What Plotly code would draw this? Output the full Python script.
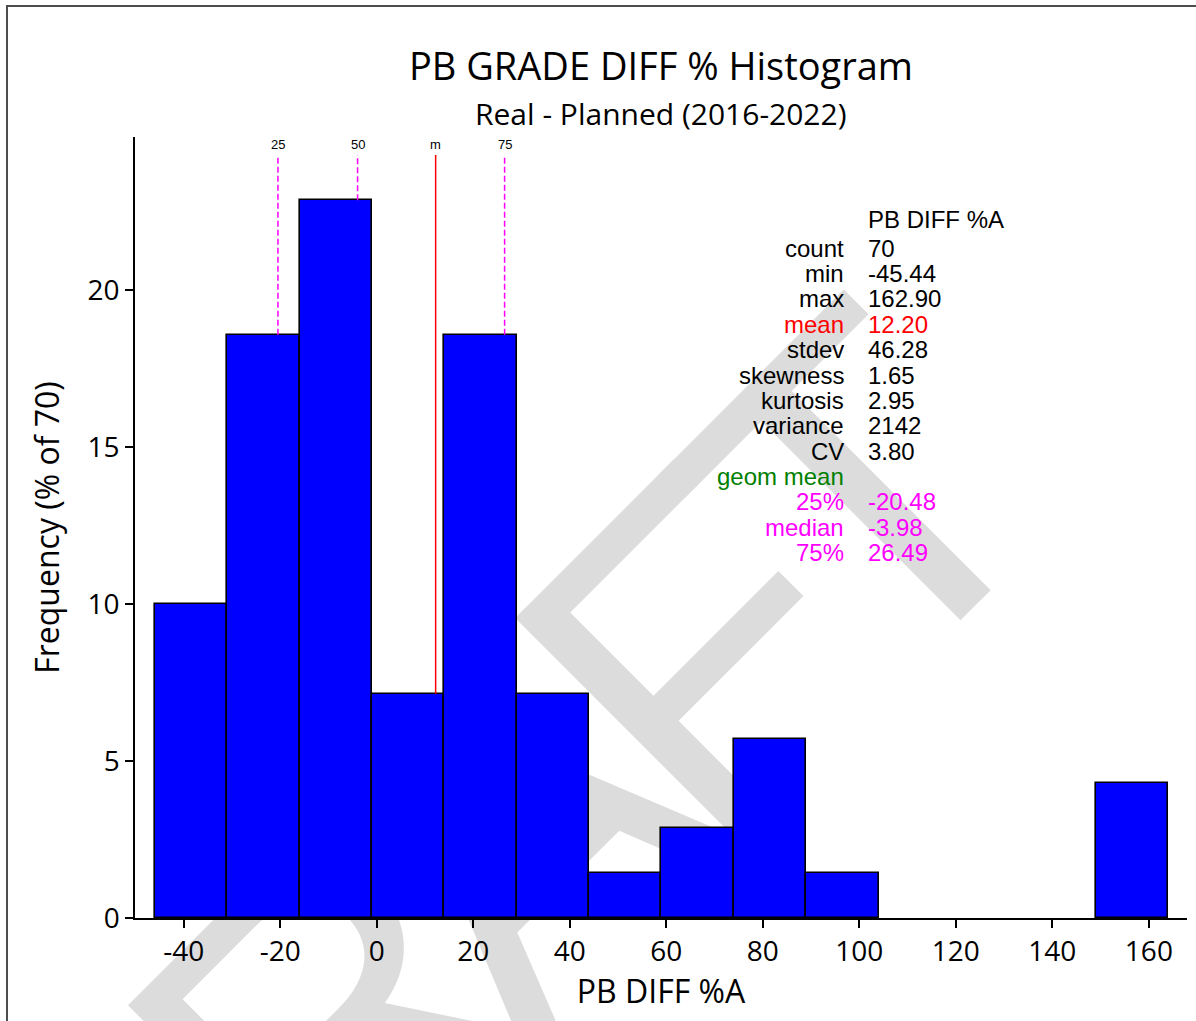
import plotly.graph_objects as go

# ---- data -------------------------------------------------------------
bin_left = [-46.0, -31.0, -16.0, -1.0, 14.0, 29.0, 44.0, 59.0, 74.0, 89.0,
            104.0, 119.0, 134.0, 149.0]
bin_width = 15.0
bin_counts = [7, 13, 16, 5, 13, 5, 1, 2, 4, 1, 0, 0, 0, 3]
n_total = 70

x_tickvals = [-40, -20, 0, 20, 40, 60, 80, 100, 120, 140, 160]
x_ticktext = ["-40", "-20", "0", "20", "40", "60", "80", "100", "120", "140", "160"]
y_tickvals = [0, 5, 10, 15, 20]

# marker lines: (label, value, colour, dash)
marker_labels = ["25", "50", "m", "75"]
marker_values = [-20.48, -3.98, 12.20, 26.49]
marker_colors = ["#ff00ff", "#ff00ff", "#ff0000", "#ff00ff"]
marker_dashes = ["6px,3px", "6px,3px", "solid", "6px,3px"]

stat_names = ["count", "min", "max", "mean", "stdev", "skewness", "kurtosis",
              "variance", "CV", "geom mean", "25%", "median", "75%"]
stat_values = ["70", "-45.44", "162.90", "12.20", "46.28", "1.65", "2.95",
               "2142", "3.80", "", "-20.48", "-3.98", "26.49"]
stat_colors = ["black", "black", "black", "#ff0000", "black", "black", "black",
               "black", "black", "#008000", "#ff00ff", "#ff00ff", "#ff00ff"]
stat_header = "PB DIFF %A"

watermark = "DRAFT"
# letters are set one by one (tight tracking) along a rising 45 degree line;
# offsets of each letter centre along that line, in pixels
watermark_steps = [-770, -492, -222, 30, 262]

# ---- layout geometry (pixels) ----------------------------------------
W, H = 1196, 1021
L, R, T, B = 135, 9, 137, 103
PW, PH = W - L - R, H - T - B
X_RANGE = [-50.1, 167.9]
Y_RANGE = [0, 24.87]
LINE_TOP = 24.3
LABEL_Y = 24.62


def px_x(px):
    return (px - L) / PW


def px_y(py):
    return (H - B - py) / PH


freq = [c / n_total * 100 for c in bin_counts]
centers = [x + bin_width / 2 for x in bin_left]
edge_widths = [1.6 if c > 0 else 0 for c in bin_counts]

fig = go.Figure()
fig.add_trace(go.Bar(
    x=centers, y=freq, width=[bin_width] * len(centers),
    marker=dict(color="#0000ff", line=dict(color="black", width=edge_widths)),
    hoverinfo="x+y", showlegend=False,
))


def bin_height(v):
    for x0, f in zip(bin_left, freq):
        if x0 <= v < x0 + bin_width:
            return f
    return 0.0


# quantile / mean lines rising from the bar top
for lab, val, col, dash in zip(marker_labels, marker_values, marker_colors, marker_dashes):
    fig.add_trace(go.Scatter(
        x=[val, val], y=[bin_height(val), LINE_TOP], mode="lines",
        line=dict(color=col, width=1.5, dash=dash),
        hoverinfo="skip", showlegend=False,
    ))
    fig.add_annotation(x=val, y=LABEL_Y, text=lab, showarrow=False,
                       xanchor="center", yanchor="middle",
                       font=dict(family="Liberation Sans, Arial", size=13, color="black"))

# statistics table
header_base = 228.3
row_base = [256.7 + 25.37 * i for i in range(len(stat_names))]
stat_font = "Liberation Sans, Arial"
fig.add_annotation(xref="paper", yref="paper", x=px_x(866), y=px_y(header_base - 8.5),
                   text=stat_header, showarrow=False, xanchor="left", yanchor="middle",
                   font=dict(family=stat_font, size=24, color="black"))
for name, val, col, base in zip(stat_names, stat_values, stat_colors, row_base):
    fig.add_annotation(xref="paper", yref="paper", x=px_x(846), y=px_y(base - 8.5),
                       text=name, showarrow=False, xanchor="right", yanchor="middle",
                       font=dict(family=stat_font, size=24, color=col))
    if val:
        fig.add_annotation(xref="paper", yref="paper", x=px_x(866), y=px_y(base - 8.5),
                           text=val, showarrow=False, xanchor="left", yanchor="middle",
                           font=dict(family=stat_font, size=24, color=col))

# subtitle
fig.add_annotation(xref="paper", yref="paper", x=0.5, y=px_y(114),
                   text="Real - Planned (2016-2022)", showarrow=False,
                   xanchor="center", yanchor="middle",
                   font=dict(family="Open Sans", size=30, color="black"))

# background watermark, kept beneath the bars
WM_SIZE = 460
ANCHOR_SUM = 1293  # x + y (pixels) of the line the letter anchors sit on
for ch, s in zip(watermark, watermark_steps):
    cx = (ANCHOR_SUM + s * 2 ** 0.5) / 2
    cy = (ANCHOR_SUM - s * 2 ** 0.5) / 2
    fig.add_shape(type="rect", xref="paper", yref="paper", layer="below",
                  x0=px_x(cx - 1), x1=px_x(cx + 1), y0=px_y(cy + 1), y1=px_y(cy - 1),
                  line=dict(width=0), fillcolor="rgba(0,0,0,0)",
                  label=dict(text=ch, textangle=-45, textposition="middle center",
                             font=dict(family="Liberation Sans, Arial",
                                       size=WM_SIZE, color="#dcdcdc")))

# figure frame
fig.add_shape(type="rect", xref="paper", yref="paper", layer="below",
              x0=px_x(7), x1=px_x(W + 20), y0=px_y(H + 20), y1=px_y(6),
              line=dict(color="#4d4d4d", width=2), fillcolor="rgba(0,0,0,0)")

axis_common = dict(
    showline=True, linecolor="black", linewidth=1.5, mirror=False,
    ticks="outside", ticklen=8, tickwidth=1.5, tickcolor="black",
    showgrid=False, zeroline=False,
    tickfont=dict(family="Open Sans", size=28, color="black"),
)

fig.update_layout(
    width=W, height=H,
    margin=dict(l=L, r=R, t=T, b=B, pad=0),
    paper_bgcolor="white", plot_bgcolor="rgba(0,0,0,0)",
    bargap=0,
    title=dict(text="PB GRADE DIFF % Histogram", x=661 / W,
               xanchor="center", y=1 - 67 / H, yanchor="middle",
               font=dict(family="Open Sans", size=38, color="black")),
    xaxis=dict(range=X_RANGE, tickvals=x_tickvals, ticktext=x_ticktext,
               title=dict(text="PB DIFF %A", standoff=12,
                          font=dict(family="Open Sans", size=32, color="black")),
               **axis_common),
    yaxis=dict(range=Y_RANGE, tickvals=y_tickvals,
               title=dict(text="Frequency (% of 70)", standoff=18,
                          font=dict(family="Open Sans", size=32, color="black")),
               **axis_common),
)

fig.write_html("out.html")
